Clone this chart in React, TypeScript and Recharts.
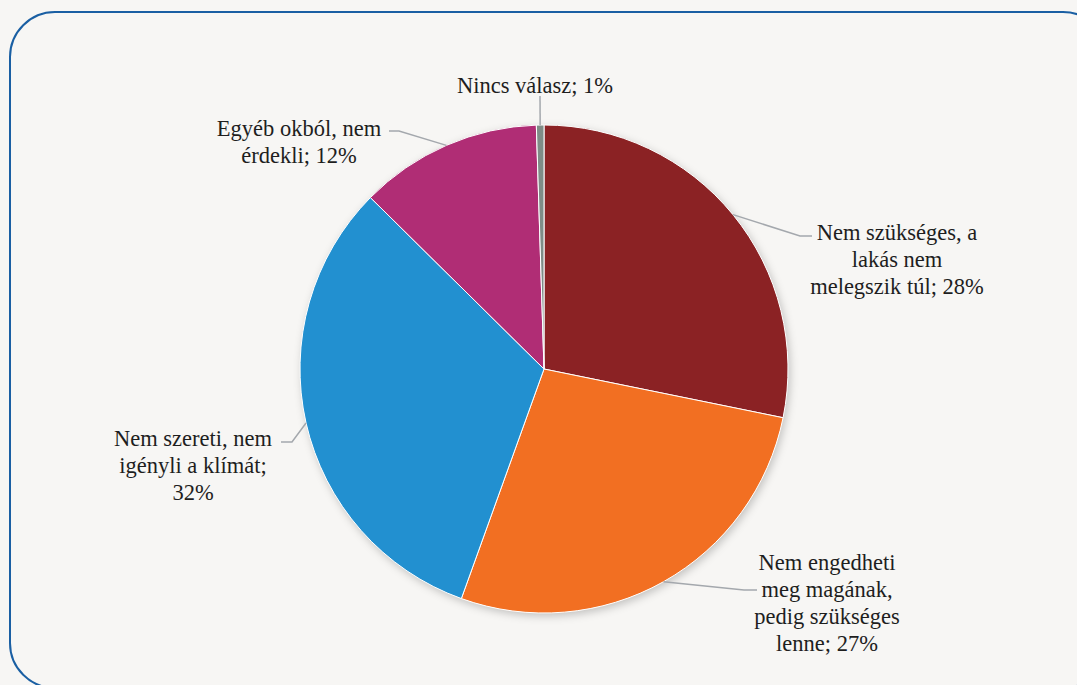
import React from 'react';
import { PieChart, Pie, Cell } from 'recharts';

const categories = [
  'Nem szükséges, a lakás nem melegszik túl',
  'Nem engedheti meg magának, pedig szükséges lenne',
  'Nem szereti, nem igényli a klímát',
  'Egyéb okból, nem érdekli',
  'Nincs válasz',
];
const shares = [28.2, 27.3, 31.9, 12.1, 0.5];
const sliceLabels = [
  ['Nem szükséges, a', 'lakás nem', 'melegszik túl; 28%'],
  ['Nem engedheti', 'meg magának,', 'pedig szükséges', 'lenne; 27%'],
  ['Nem szereti, nem', 'igényli a klímát;', '32%'],
  ['Egyéb okból, nem', 'érdekli; 12%'],
  ['Nincs válasz; 1%'],
];
const colors = ['#8b2224', '#f26f22', '#2290d0', '#b02d75', '#7f8c87'];

// label placement relative to pie centre: text centre x, first line y, elbow, line end
const labelLayout = [
  { tx: 353, ty: -137, ex: 256, ey: -133, hx: 268 },
  { tx: 283, ty: 193, ex: 200, ey: 221, hx: 213 },
  { tx: -351, ty: 69, ex: -252, ey: 73, hx: -263 },
  { tx: -245, ty: -241, ex: -145, ey: -238, hx: -155 },
  { tx: -9, ty: -284, ex: -4, ey: -273, hx: -4 },
];

const data = categories.map((name, i) => ({ name, value: shares[i] }));

const W = 1077;
const H = 685;
const CX = 544;
const CY = 369;
const R = 244;
const RAD = Math.PI / 180;
const FONT = "'Liberation Serif', serif";

const renderLabel = (props: any) => {
  const { cx, cy, midAngle, outerRadius, index } = props;
  const lay = labelLayout[index];
  const sx = cx + outerRadius * Math.cos(-midAngle * RAD);
  const sy = cy + outerRadius * Math.sin(-midAngle * RAD);
  const ex = cx + lay.ex;
  const ey = cy + lay.ey;
  const hx = cx + lay.hx;
  const lines = sliceLabels[index];
  return (
    <g>
      <polyline
        points={`${sx},${sy} ${ex},${ey} ${hx},${ey}`}
        fill="none"
        stroke="#a4a8ad"
        strokeWidth={1.5}
      />
      <text
        x={cx + lay.tx}
        y={cy + lay.ty}
        textAnchor="middle"
        dominantBaseline="central"
        style={{ fontFamily: FONT, fontSize: 22.5 }}
        fill="#1e1e1e"
      >
        {lines.map((l, j) => (
          <tspan key={j} x={cx + lay.tx} dy={j === 0 ? 0 : 27}>
            {l}
          </tspan>
        ))}
      </text>
    </g>
  );
};

export default function App() {
  return (
    <div
      style={{
        position: 'fixed',
        left: 0,
        top: 0,
        width: W,
        height: H,
        overflow: 'hidden',
        background: '#f7f6f4',
        fontFamily: FONT,
      }}
    >
      <div
        style={{
          position: 'absolute',
          left: 9,
          top: 11,
          width: 1100,
          height: 678,
          border: '2.5px solid #1a5fa3',
          borderRadius: 46,
          boxSizing: 'border-box',
        }}
      />
      <div style={{ position: 'absolute', left: 0, top: 0 }}>
        <PieChart width={W} height={H} margin={{ top: 0, right: 0, bottom: 0, left: 0 }}>
          <Pie
            data={[{ name: 'shadow', value: 1 }]}
            dataKey="value"
            cx={CX}
            cy={CY}
            outerRadius={R}
            startAngle={90}
            endAngle={-270}
            stroke="none"
            fill="#f7f6f4"
            style={{ filter: 'drop-shadow(2px 3px 4px rgba(0,0,0,0.22))' }}
            isAnimationActive={false}
          />
          <Pie
            data={data}
            dataKey="value"
            nameKey="name"
            cx={CX}
            cy={CY}
            outerRadius={R}
            startAngle={90}
            endAngle={-270}
            stroke="#ffffff"
            strokeWidth={1}
            label={renderLabel}
            labelLine={false}
            isAnimationActive={false}
          >
            {data.map((d, i) => (
              <Cell key={d.name} fill={colors[i]} />
            ))}
          </Pie>
        </PieChart>
      </div>
    </div>
  );
}
